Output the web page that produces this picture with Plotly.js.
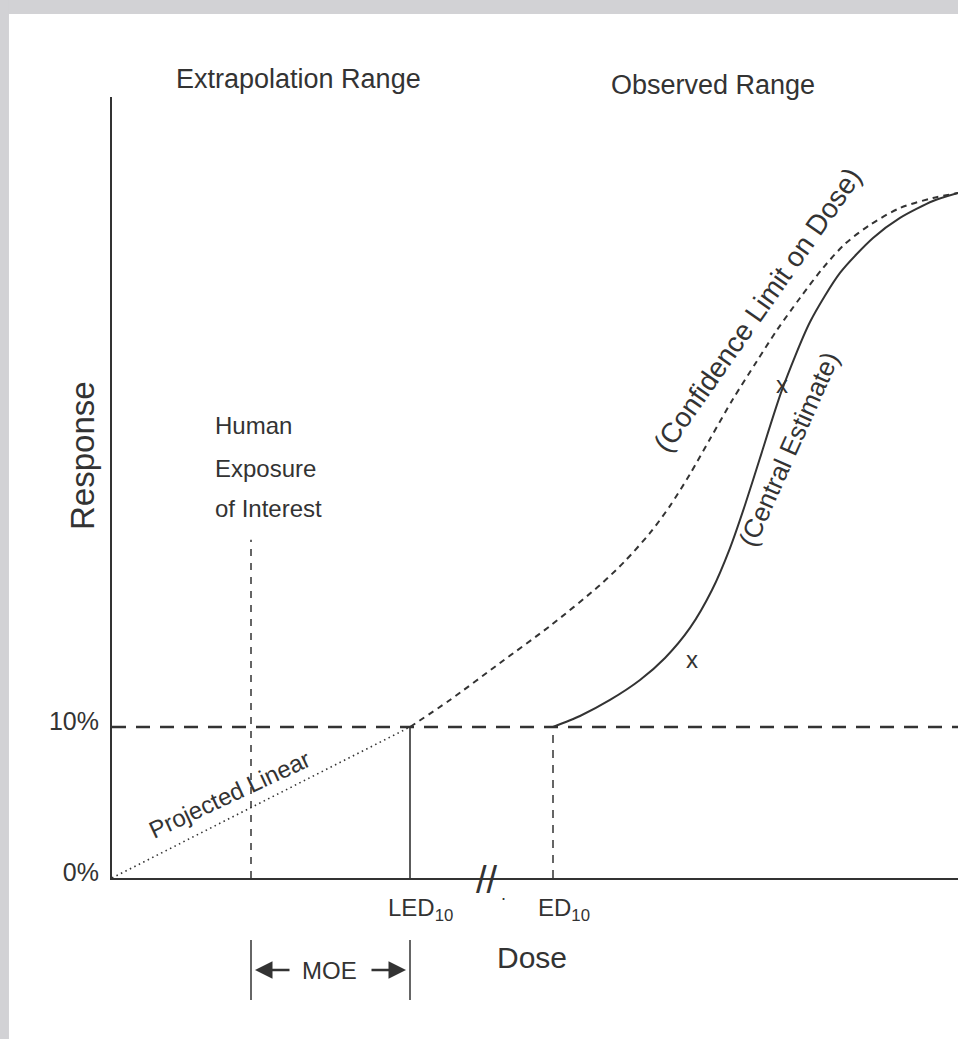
<!DOCTYPE html>
<html>
<head>
<meta charset="utf-8">
<script src="https://cdn.plot.ly/plotly-3.0.1.min.js"></script>
<style>
  html, body { margin: 0; padding: 0; background: #ffffff; }
  #chart { width: 958px; height: 1039px; }
</style>
</head>
<body>
<div id="chart"></div>
<script>
// ---------- data (dose in arbitrary units, response in %) ----------
const responseTicks = [0, 10];
const responseTickLabels = ['0%', '10%'];
const benchmarkResponse = 10;
const doseMax = 84.6;
const responseMax = 51.72;

const humanExposureDose = 13.9;
const humanExposureTop = 22.4;
const led10Dose = 29.8;
const ed10Dose = 44.1;

// lower confidence limit on dose (dashed curve)
const confDose = [29.8, 33.8, 38.8, 43.8, 48.8, 51.3, 53.8, 55.8, 57.8, 59.8, 62.1, 64.5, 66.5, 68.8, 71.1, 73.3, 75.8, 78.8, 82.1, 84.6];
const confResp = [10.0, 11.79, 14.24, 16.69, 19.4, 20.99, 22.85, 24.64, 26.75, 29.07, 31.72, 34.24, 36.29, 38.41, 40.4, 41.99, 43.25, 44.37, 45.03, 45.36];

// central estimate (solid curve)
const centralDose = [44.1, 46.8, 49.8, 52.8, 55.3, 57.8, 60.0, 61.8, 63.3, 64.8, 67.0, 69.8, 72.8, 76.1, 78.8, 82.1, 84.6];
const centralResp = [10.0, 10.73, 11.79, 13.11, 14.57, 16.56, 19.07, 21.85, 24.7, 27.81, 32.32, 36.82, 40.07, 42.38, 43.71, 44.83, 45.36];

// observed data points
const obsDose = [58.0, 67.0];
const obsResp = [14.3, 32.5];

// ---------- styling ----------
const INK = '#333333';
const SANS = "'Liberation Sans', Arial, Helvetica, sans-serif";

const traces = [
  { // 10% benchmark line
    x: [0, doseMax], y: [benchmarkResponse, benchmarkResponse],
    mode: 'lines', line: { color: INK, width: 2.5, dash: '14px,10px' }, hoverinfo: 'skip'
  },
  { // human exposure of interest
    x: [humanExposureDose, humanExposureDose], y: [0, humanExposureTop],
    mode: 'lines', line: { color: INK, width: 1.5, dash: '7px,7px' }, hoverinfo: 'skip'
  },
  { // LED10 drop line
    x: [led10Dose, led10Dose], y: [0, benchmarkResponse],
    mode: 'lines', line: { color: INK, width: 1.6 }, hoverinfo: 'skip'
  },
  { // ED10 drop line
    x: [ed10Dose, ed10Dose], y: [0, benchmarkResponse],
    mode: 'lines', line: { color: INK, width: 1.5, dash: '8px,7px' }, hoverinfo: 'skip'
  },
  { // projected linear
    x: [0, led10Dose], y: [0, benchmarkResponse],
    mode: 'lines', line: { color: INK, width: 1.6, dash: '1.5px,3.5px' }, hoverinfo: 'skip'
  },
  { // confidence limit on dose
    x: confDose, y: confResp,
    mode: 'lines', line: { color: INK, width: 2, dash: '6px,5px', shape: 'spline', smoothing: 0.8 }, hoverinfo: 'skip'
  },
  { // central estimate
    x: centralDose, y: centralResp,
    mode: 'lines', line: { color: INK, width: 2, shape: 'spline', smoothing: 0.7 }, hoverinfo: 'skip'
  },
  { // observed points
    x: obsDose, y: obsResp, mode: 'text', text: obsDose.map(() => 'x'),
    textposition: 'middle center', textfont: { family: SANS, size: 24, color: INK }, hoverinfo: 'skip'
  }
];

const annFont = (size) => ({ family: SANS, size: size, color: INK });
const lbl = (o) => Object.assign({ showarrow: false, xanchor: 'center', yanchor: 'middle' }, o);

const annotations = [
  lbl({ text: 'Extrapolation Range', xref: 'paper', yref: 'paper', x: 0.221, y: 1.0230, font: annFont(27) }),
  lbl({ text: 'Observed Range', xref: 'paper', yref: 'paper', x: 0.7104, y: 1.0153, font: annFont(27) }),
  lbl({ text: 'Response', xref: 'paper', yref: 'paper', x: -0.0355, y: 0.5416, textangle: -90, font: annFont(33) }),
  lbl({ text: 'Human', xref: 'x', yref: 'y', x: 10.1, y: 29.97, xanchor: 'left', font: annFont(24) }),
  lbl({ text: 'Exposure', xref: 'x', yref: 'y', x: 10.1, y: 27.15, xanchor: 'left', font: annFont(24) }),
  lbl({ text: 'of Interest', xref: 'x', yref: 'y', x: 10.1, y: 24.5, xanchor: 'left', font: annFont(24) }),
  lbl({ text: 'Projected Linear', xref: 'x', yref: 'y', x: 11.7, y: 5.56, textangle: -25, font: annFont(24) }),
  lbl({ text: '(Confidence Limit on Dose)', xref: 'x', yref: 'y', x: 64.5, y: 37.6, textangle: -55, font: annFont(28) }),
  lbl({ text: '(Central Estimate)', xref: 'x', yref: 'y', x: 67.7, y: 28.41, textangle: -66, font: annFont(26) }),
  lbl({ text: 'LED<sub>10</sub>', xref: 'x', yref: 'paper', x: led10Dose, xshift: 10, y: -0.040, font: annFont(24) }),
  lbl({ text: 'ED<sub>10</sub>', xref: 'x', yref: 'paper', x: ed10Dose, xshift: 11, y: -0.040, font: annFont(24) }),
  lbl({ text: '//', xref: 'x', yref: 'paper', x: 37.5, y: -0.0026, font: annFont(38) }),
  lbl({ text: '.', xref: 'x', yref: 'paper', x: 39.1, y: -0.020, font: annFont(18) }),
  lbl({ text: 'Dose', xref: 'x', yref: 'paper', x: 42.0, y: -0.1024, font: annFont(30) }),
  lbl({ text: 'MOE', xref: 'x', yref: 'paper', x: 21.7, y: -0.1178, font: annFont(24) }),
  { text: '', xref: 'x', yref: 'paper', x: humanExposureDose, y: -0.1178, ax: 40, ay: 0,
    showarrow: true, arrowhead: 2, arrowsize: 1.4, arrowwidth: 2.5, arrowcolor: INK, standoff: 4 },
  { text: '', xref: 'x', yref: 'paper', x: led10Dose, y: -0.1178, ax: -40, ay: 0,
    showarrow: true, arrowhead: 2, arrowsize: 1.4, arrowwidth: 2.5, arrowcolor: INK, standoff: 4 }
];

const shapes = [
  // scan frame (grey strips)
  { type: 'rect', xref: 'paper', yref: 'paper', x0: -0.1324, x1: 1.0, y0: 1.1063, y1: 1.125,
    fillcolor: '#d2d2d5', line: { width: 0 }, layer: 'below' },
  { type: 'rect', xref: 'paper', yref: 'paper', x0: -0.1324, x1: -0.1218, y0: -0.207, y1: 1.125,
    fillcolor: '#d2d2d5', line: { width: 0 }, layer: 'below' },
  // MOE bracket ends
  { type: 'line', xref: 'x', yref: 'paper', x0: humanExposureDose, x1: humanExposureDose, y0: -0.0794, y1: -0.1562,
    line: { color: INK, width: 1.5 } },
  { type: 'line', xref: 'x', yref: 'paper', x0: led10Dose, x1: led10Dose, y0: -0.0794, y1: -0.1562,
    line: { color: INK, width: 1.5 } }
];

const layout = {
  width: 958, height: 1039,
  margin: { l: 112, r: 0, t: 97, b: 161 },
  paper_bgcolor: '#ffffff', plot_bgcolor: '#ffffff',
  showlegend: false,
  xaxis: {
    range: [0, doseMax], showgrid: false, zeroline: false, showticklabels: false,
    showline: true, linecolor: INK, linewidth: 2, ticks: '', fixedrange: true
  },
  yaxis: {
    range: [0, responseMax], showgrid: false, zeroline: false,
    tickvals: responseTicks, ticktext: responseTickLabels,
    tickfont: { family: SANS, size: 25, color: INK },
    ticks: '', ticklabelstandoff: 6, ticklabelshift: -6,
    showline: true, linecolor: INK, linewidth: 2, fixedrange: true
  },
  annotations: annotations,
  shapes: shapes
};

Plotly.newPlot('chart', traces, layout, { displayModeBar: false, staticPlot: true });
</script>
</body>
</html>
